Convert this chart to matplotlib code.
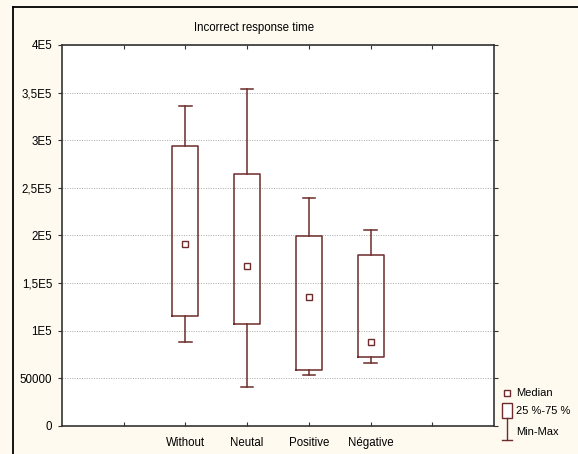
import matplotlib
matplotlib.use("Agg")
import matplotlib.pyplot as plt
from matplotlib.lines import Line2D
from matplotlib.patches import Rectangle

plt.rcParams['font.family'] = ['Liberation Sans', 'DejaVu Sans']

categories = ["Without", "Neutal", "Positive", "Négative"]
positions = [2, 3, 4, 5]
mins = [88000, 41000, 53500, 66000]
q1 = [116000, 107000, 58500, 72000]
medians = [191500, 167500, 135000, 88000]
q3 = [294000, 265000, 199000, 180000]
maxs = [336000, 354000, 239000, 206000]
ytick_vals = [0, 50000, 100000, 150000, 200000, 250000, 300000, 350000, 400000]
ytick_labels = ["0", "50000", "1E5", "1,5E5", "2E5", "2,5E5", "3E5", "3,5E5", "4E5"]
xtick_vals = [1, 2, 3, 4, 5, 6]
xtick_labels = ["", "Without", "Neutal", "Positive", "Négative", ""]
legend_labels = ["Median", "25 %-75 %", "Min-Max"]

line_col = "#6e2b2b"
bg = "#fffaf0"
W, H = 578, 454

fig = plt.figure(figsize=(W/100, H/100), dpi=100, facecolor=bg)
ax = fig.add_axes([62/W, 1-426/H, (494-62)/W, (426-45)/H])
ax.set_facecolor("white")

stats = []
for c, mn, a, m, b, mx in zip(categories, mins, q1, medians, q3, maxs):
    stats.append(dict(label=c, whislo=mn, q1=a, med=m, q3=b, whishi=mx, fliers=[]))
ax.bxp(stats, positions=positions, widths=0.42, showfliers=False,
       boxprops=dict(color=line_col, linewidth=1.1),
       whiskerprops=dict(color=line_col, linewidth=1.1),
       capprops=dict(color=line_col, linewidth=1.1),
       medianprops=dict(linewidth=0),
       capwidths=0.2, zorder=3)
ax.plot(positions, medians, linestyle='none', marker='s', markersize=4.5,
        markerfacecolor='white', markeredgecolor=line_col, markeredgewidth=1.0, zorder=4)

ax.set_xlim(0, 7)
ax.set_ylim(0, 400000)
ax.set_xticks(xtick_vals)
ax.set_xticklabels(xtick_labels, fontsize=8.3)
ax.set_yticks(ytick_vals)
ax.set_yticklabels(ytick_labels, fontsize=8.3)
ax.tick_params(axis='x', direction='in', top=True, length=3, color='#333333', pad=8)
ax.tick_params(axis='y', direction='out', length=3, color='#333333', pad=4)
ax.tick_params(axis='y', which='both', right=True)
ax.yaxis.grid(True, linestyle=(0, (1, 1.5)), color='#a8a8a8', linewidth=0.7)
ax.set_axisbelow(True)
for s in ax.spines.values():
    s.set_color('#333333')
    s.set_linewidth(1.2)

fig.text(194/W, 1-28/H, "Incorrect response time", ha='left', va='center', fontsize=8.3)

# outer frame lines
fig.add_artist(Line2D([13/W, 13/W], [0, 1-7/H], color='black', linewidth=1.3, transform=fig.transFigure))
fig.add_artist(Line2D([13/W, 1], [1-7/H, 1-7/H], color='black', linewidth=1.3, transform=fig.transFigure))

# legend (drawn as figure decorations)
def fx(x):
    return x / W

def fy(y):
    return 1 - y / H

fig.add_artist(Line2D([fx(507)], [fy(393)], linestyle='none', marker='s', markersize=4.5,
                      markerfacecolor='white', markeredgecolor=line_col, markeredgewidth=1.0,
                      transform=fig.transFigure))
fig.add_artist(Rectangle((fx(502), fy(418)), (512-502)/W, (418-403)/H, facecolor='white',
                         edgecolor=line_col, linewidth=1.0, transform=fig.transFigure))
fig.add_artist(Line2D([fx(507), fx(507)], [fy(418), fy(440)], color=line_col, linewidth=1.0,
                      transform=fig.transFigure))
fig.add_artist(Line2D([fx(502), fx(512)], [fy(440), fy(440)], color=line_col, linewidth=1.0,
                      transform=fig.transFigure))
for lab, yy in zip(legend_labels, [393, 411, 432]):
    fig.text(fx(516), fy(yy), lab, ha='left', va='center', fontsize=8)

fig.savefig("out.png", dpi=100, facecolor=bg)
